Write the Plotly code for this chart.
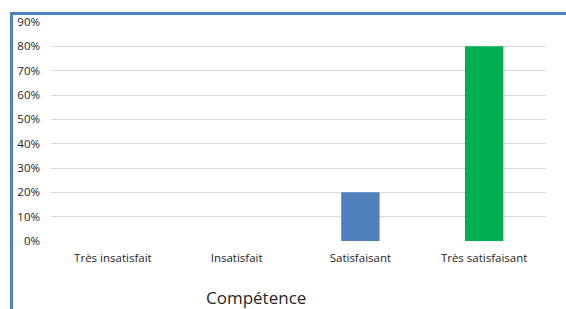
import plotly.graph_objects as go

categories = ["Très insatisfait", "Insatisfait", "Satisfaisant", "Très satisfaisant"]
values = [0, 0, 0.20, 0.80]
colors = ["#4F81BD", "#4F81BD", "#4F81BD", "#00B050"]
title_text = "Compétence"

W, H = 566, 309
L, R, T, B = 51, 20, 22, 68
pw = W - L - R
ph = H - T - B

def px(x):
    return (x - L) / pw

def py(y):
    return (H - B - y) / ph

fig = go.Figure(go.Bar(x=categories, y=values, marker_color=colors, width=0.31,
                       marker_line_width=0))

fig.update_layout(
    width=W, height=H,
    margin=dict(l=L, r=R, t=T, b=B),
    paper_bgcolor="white", plot_bgcolor="white",
    showlegend=False,
    font=dict(family="Open Sans, Liberation Sans, Arial", size=11, color="#262626"),
    bargap=0.69,
)
fig.update_yaxes(range=[0, 0.9], dtick=0.1, tickformat=".0%", showgrid=True,
                 gridcolor="#d9d9d9", gridwidth=1, zeroline=False, showline=False,
                 ticks="", ticklabelstandoff=10, tickfont=dict(size=11.5, color="#262626"))
fig.update_xaxes(showgrid=False, showline=False, ticks="", ticklabelstandoff=8,
                 tickfont=dict(size=11.5, color="#262626"))

fig.add_shape(type="path", xref="paper", yref="paper",
              path=f"M {px(11.5)},{py(320)} L {px(11.5)},{py(13.5)} L {px(570)},{py(13.5)}",
              line=dict(color="#4F81BD", width=3))

fig.add_annotation(text=title_text, xref="paper", yref="paper", x=px(256), y=py(297),
                   showarrow=False, font=dict(size=17, color="#262626"), xanchor="center", yanchor="middle")

fig.write_html("out.html", config={"displayModeBar": False},
               post_script="document.body.style.margin='0px';document.body.style.overflow='hidden';")
